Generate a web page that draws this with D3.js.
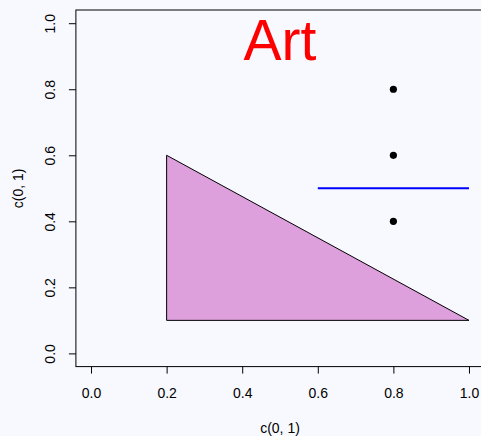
<!DOCTYPE html>
<html>
<head>
<meta charset="utf-8">
<script src="https://cdn.jsdelivr.net/npm/d3@7"></script>
<style>
  html, body { margin: 0; padding: 0; background: #F8F8FF; }
  svg { display: block; }
  text { font-family: "Liberation Sans", Arial, Helvetica, sans-serif; }
</style>
</head>
<body>
<svg id="chart" width="481" height="436"></svg>
<script>
const xTicks = [0.0, 0.2, 0.4, 0.6, 0.8, 1.0];
const yTicks = [0.0, 0.2, 0.4, 0.6, 0.8, 1.0];
const xLabel = "c(0, 1)";
const yLabel = "c(0, 1)";
const triangleX = [0.2, 0.2, 1.0];
const triangleY = [0.1, 0.6, 0.1];
const pointsX = [0.8, 0.8, 0.8];
const pointsY = [0.4, 0.6, 0.8];
const segmentX = [0.6, 1.0];
const segmentY = [0.5, 0.5];
const titleText = "Art";
const titleX = 0.5;
const titleY = 0.95;

const svg = d3.select("#chart");
const W = 481, H = 436;

const x = d3.scaleLinear().domain([-0.04, 1.04]).range([75.9, 484.1]);
const y = d3.scaleLinear().domain([-0.04, 1.04]).range([366.6, 10.0]);

svg.append("rect").attr("x", 0).attr("y", 0).attr("width", W).attr("height", H).attr("fill", "#F8F8FF");

// triangle polygon
const tri = triangleX.map((v, i) => [x(v), y(triangleY[i])]);
svg.append("path")
  .attr("d", d3.line()(tri) + "Z")
  .attr("fill", "#DDA0DD")
  .attr("stroke", "#000")
  .attr("stroke-width", 1);

// blue segment
svg.append("line")
  .attr("x1", x(segmentX[0])).attr("y1", y(segmentY[0]))
  .attr("x2", x(segmentX[1])).attr("y2", y(segmentY[1]))
  .attr("stroke", "#0000FF").attr("stroke-width", 2);

// points
svg.selectAll("circle.pt").data(pointsX.map((v, i) => [v, pointsY[i]]))
  .enter().append("circle")
  .attr("class", "pt")
  .attr("cx", d => x(d[0])).attr("cy", d => y(d[1]))
  .attr("r", 3.6).attr("fill", "#000");

// title text
svg.append("text")
  .attr("x", x(titleX)).attr("y", y(titleY))
  .attr("text-anchor", "middle")
  .attr("dominant-baseline", "central")
  .attr("font-size", 57)
  .attr("fill", "#FF0000")
  .text(titleText);

// box
svg.append("rect")
  .attr("x", 75.9).attr("y", 10.0)
  .attr("width", 484.1 - 75.9).attr("height", 366.6 - 10.0)
  .attr("fill", "none").attr("stroke", "#000").attr("stroke-width", 1);

// x axis
const gx = svg.append("g").attr("transform", "translate(0,366.6)")
  .call(d3.axisBottom(x).tickValues(xTicks).tickFormat(d3.format(".1f")).tickSize(7));
gx.select(".domain").remove();
gx.selectAll("line").attr("stroke", "#000");
gx.selectAll("text")
  .attr("font-size", 14).attr("fill", "#000")
  .attr("font-family", "Liberation Sans, Arial, sans-serif")
  .attr("y", 26.5).attr("dy", null)
  .attr("dominant-baseline", "central");

// y axis
const gy = svg.append("g").attr("transform", "translate(75.9,0)")
  .call(d3.axisLeft(y).tickValues(yTicks).tickFormat(d3.format(".1f")).tickSize(7).tickPadding(0));
gy.select(".domain").remove();
gy.selectAll("line").attr("stroke", "#000");
gy.selectAll("text")
  .attr("font-size", 14).attr("fill", "#000")
  .attr("font-family", "Liberation Sans, Arial, sans-serif")
  .attr("x", 0).attr("dy", null)
  .attr("text-anchor", "middle")
  .attr("dominant-baseline", "central")
  .attr("transform", "translate(-25.5,0) rotate(-90)");

// axis titles
svg.append("text")
  .attr("x", x(0.5)).attr("y", 428)
  .attr("text-anchor", "middle").attr("dominant-baseline", "central")
  .attr("font-size", 14).attr("fill", "#000")
  .text(xLabel);

svg.append("text")
  .attr("transform", `translate(18,${y(0.5)}) rotate(-90)`)
  .attr("text-anchor", "middle").attr("dominant-baseline", "central")
  .attr("font-size", 14).attr("fill", "#000")
  .text(yLabel);
</script>
</body>
</html>
